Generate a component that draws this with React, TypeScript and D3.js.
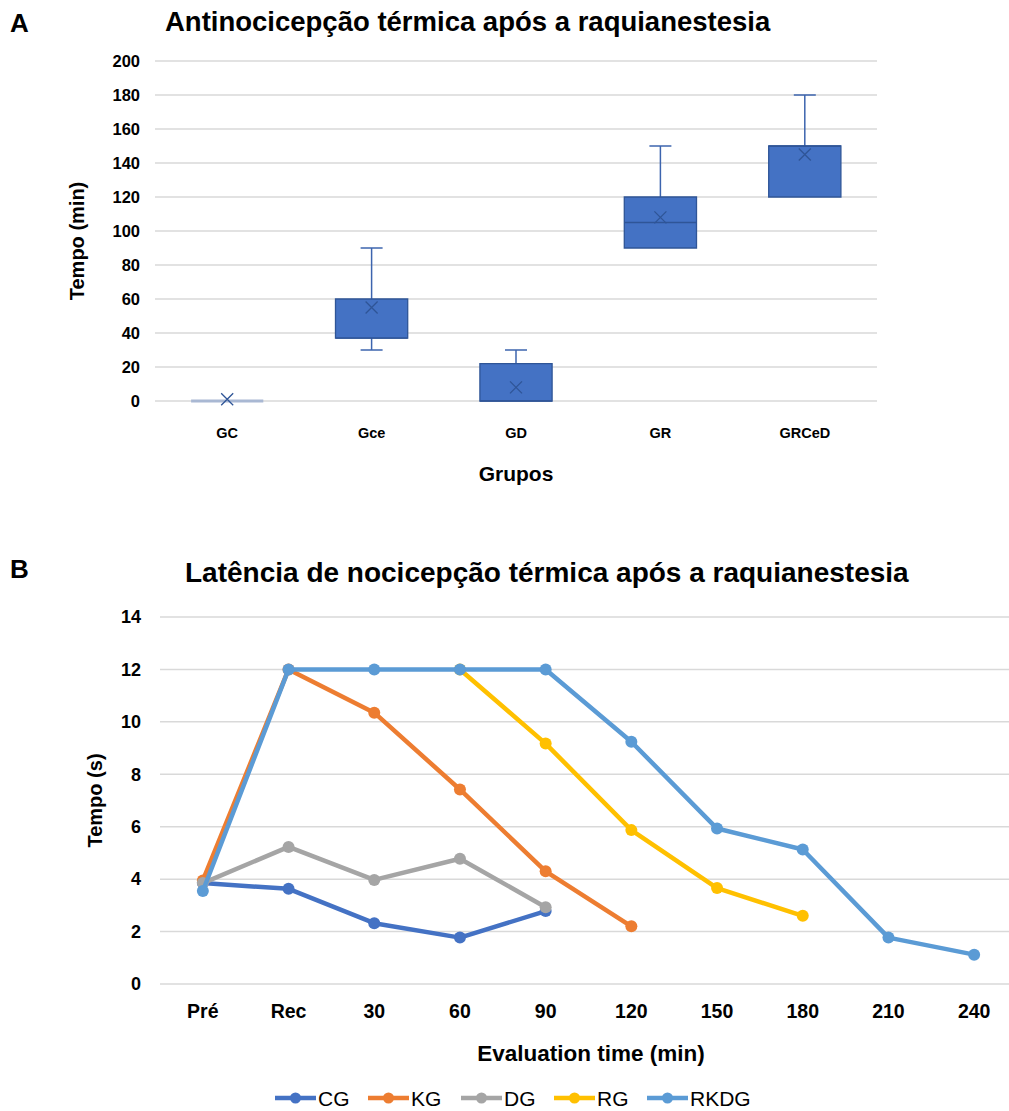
import React, { useEffect } from "react";
import * as d3 from "d3";

// Panel A - box plot data (min, q1, median, q3, max, mean)
const groupsA = ["GC", "Gce", "GD", "GR", "GRCeD"];
const minA = [0, 30, 0, 90, 120];
const q1A = [0, 37, 0, 90, 120];
const medianA = [0, 37, 0, 105, 150];
const q3A = [0, 60, 22, 120, 150];
const maxA = [0, 90, 30, 150, 180];
const meanA = [1, 55, 8, 108, 145];
const ticksA = [0, 20, 40, 60, 80, 100, 120, 140, 160, 180, 200];

// Panel B - line chart data
const timesB = ["Pré", "Rec", "30", "60", "90", "120", "150", "180", "210", "240"];
const seriesNames = ["CG", "KG", "DG", "RG", "RKDG"];
const cg = [3.85, 3.63, 2.32, 1.77, 2.78, null, null, null, null, null];
const kg = [3.95, 12, 10.35, 7.42, 4.3, 2.2, null, null, null, null];
const dg = [3.85, 5.23, 3.97, 4.78, 2.93, null, null, null, null, null];
const rg = [null, null, null, 12, 9.17, 5.87, 3.66, 2.6, null, null];
const rkdg = [3.55, 12, 12, 12, 12, 9.24, 5.93, 5.13, 1.77, 1.12];
const colorsB = ["#4472C4", "#ED7D31", "#A5A5A5", "#FFC000", "#5B9BD5"];
const ticksB = [0, 2, 4, 6, 8, 10, 12, 14];

const font = "'Liberation Sans', Arial, sans-serif";

function PanelA() {
  const x = d3.scaleBand().domain(groupsA).range([155, 877]);
  const y = d3.scaleLinear().domain([0, 200]).range([401, 61]);
  const bw = x.bandwidth() * 0.5;
  const cap = 22;
  return (
    <g>
      <text x={10} y={32} fontFamily={font} fontWeight="bold" fontSize={26}>A</text>
      <text x={165} y={31} fontFamily={font} fontWeight="bold" fontSize={27.5}>
        Antinocicepção térmica após a raquianestesia
      </text>
      {ticksA.map((t) => (
        <g key={t}>
          <line x1={155} x2={877} y1={y(t)} y2={y(t)} stroke="#d9d9d9" strokeWidth={1.3} />
          <text x={140} y={y(t)} dy="0.35em" textAnchor="end" fontFamily={font}
            fontWeight="bold" fontSize={16.5}>{t}</text>
        </g>
      ))}
      {groupsA.map((g, i) => {
        const cx = x(g)! + x.bandwidth() / 2;
        const flat = q3A[i] === q1A[i];
        const x0 = cx - bw / 2;
        return (
          <g key={g}>
            <line x1={cx} x2={cx} y1={y(maxA[i])} y2={y(q3A[i])} stroke="#3c64ae" strokeWidth={1.5} />
            <line x1={cx} x2={cx} y1={y(q1A[i])} y2={y(minA[i])} stroke="#3c64ae" strokeWidth={1.5} />
            {maxA[i] > q3A[i] && (
              <line x1={cx - cap / 2} x2={cx + cap / 2} y1={y(maxA[i])} y2={y(maxA[i])} stroke="#3c64ae" strokeWidth={1.5} />
            )}
            {minA[i] < q1A[i] && (
              <line x1={cx - cap / 2} x2={cx + cap / 2} y1={y(minA[i])} y2={y(minA[i])} stroke="#3c64ae" strokeWidth={1.5} />
            )}
            <path d={`M${x0},${y(q3A[i])}H${x0 + bw}V${y(q1A[i])}H${x0}Z`}
              fill="#4472C4" stroke={flat ? "#a9b8d3" : "#2F5597"} strokeWidth={flat ? 3 : 1.3} />
            {!flat && (
              <line x1={x0} x2={x0 + bw} y1={y(medianA[i])} y2={y(medianA[i])} stroke="#2F5597" strokeWidth={1.3} />
            )}
            <path d={`M${cx - 6},${y(meanA[i]) - 6}L${cx + 6},${y(meanA[i]) + 6}M${cx - 6},${y(meanA[i]) + 6}L${cx + 6},${y(meanA[i]) - 6}`}
              stroke="#2F5597" strokeWidth={1.3} fill="none" />
            <text x={cx} y={438} textAnchor="middle" fontFamily={font} fontWeight="bold" fontSize={14.5}>{g}</text>
          </g>
        );
      })}
      <text transform={`translate(84,${(y(0) + y(200)) / 2 + 10}) rotate(-90)`} textAnchor="middle"
        fontFamily={font} fontWeight="bold" fontSize={20}>Tempo (min)</text>
      <text x={516} y={481} textAnchor="middle" fontFamily={font} fontWeight="bold" fontSize={21}>Grupos</text>
    </g>
  );
}

function PanelB() {
  const x = d3.scaleBand().domain(timesB).range([160, 1017]);
  const y = d3.scaleLinear().domain([0, 14]).range([984, 617]);
  const data = [cg, kg, dg, rg, rkdg];
  const line = d3
    .line<number | null>()
    .defined((d) => d != null)
    .x((d, i) => x(timesB[i])! + x.bandwidth() / 2)
    .y((d) => y(d as number));
  const legendX = [275, 368, 461, 554, 647];
  return (
    <g>
      <text x={10} y={578} fontFamily={font} fontWeight="bold" fontSize={26}>B</text>
      <text x={185} y={582} fontFamily={font} fontWeight="bold" fontSize={28}>
        Latência de nocicepção térmica após a raquianestesia
      </text>
      {ticksB.map((t) => (
        <g key={t}>
          <line x1={160} x2={1017} y1={y(t)} y2={y(t)} stroke="#d9d9d9" strokeWidth={1.5} />
          <text x={141} y={y(t)} dy="0.35em" textAnchor="end" fontFamily={font}
            fontWeight="bold" fontSize={18}>{t}</text>
        </g>
      ))}
      {timesB.map((t) => (
        <text key={t} x={x(t)! + x.bandwidth() / 2} y={1018} textAnchor="middle"
          fontFamily={font} fontWeight="bold" fontSize={19.5}>{t}</text>
      ))}
      {data.map((s, k) => (
        <g key={seriesNames[k]}>
          <path d={line(s) || ""} fill="none" stroke={colorsB[k]} strokeWidth={4.5} strokeLinejoin="round" />
          {s.map((v, i) =>
            v == null ? null : (
              <circle key={i} cx={x(timesB[i])! + x.bandwidth() / 2} cy={y(v)} r={6} fill={colorsB[k]} />
            )
          )}
        </g>
      ))}
      <text transform={`translate(102,${(y(0) + y(14)) / 2}) rotate(-90)`} textAnchor="middle"
        fontFamily={font} fontWeight="bold" fontSize={20}>Tempo (s)</text>
      <text x={591} y={1061} textAnchor="middle" fontFamily={font} fontWeight="bold" fontSize={22.5}>
        Evaluation time (min)
      </text>
      {seriesNames.map((n, k) => (
        <g key={n} transform={`translate(${legendX[k]},1098)`}>
          <line x1={0} x2={41} y1={0} y2={0} stroke={colorsB[k]} strokeWidth={4.5} />
          <circle cx={20.5} cy={0} r={5.5} fill={colorsB[k]} />
          <text x={43} y={0} dy="0.36em" fontFamily={font} fontSize={21}>{n}</text>
        </g>
      ))}
    </g>
  );
}

export default function App() {
  useEffect(() => {
    document.body.style.margin = "0";
  }, []);
  return (
    <svg width={1009} height={1111} style={{ display: "block", background: "#fff" }}>
      <PanelA />
      <PanelB />
    </svg>
  );
}
